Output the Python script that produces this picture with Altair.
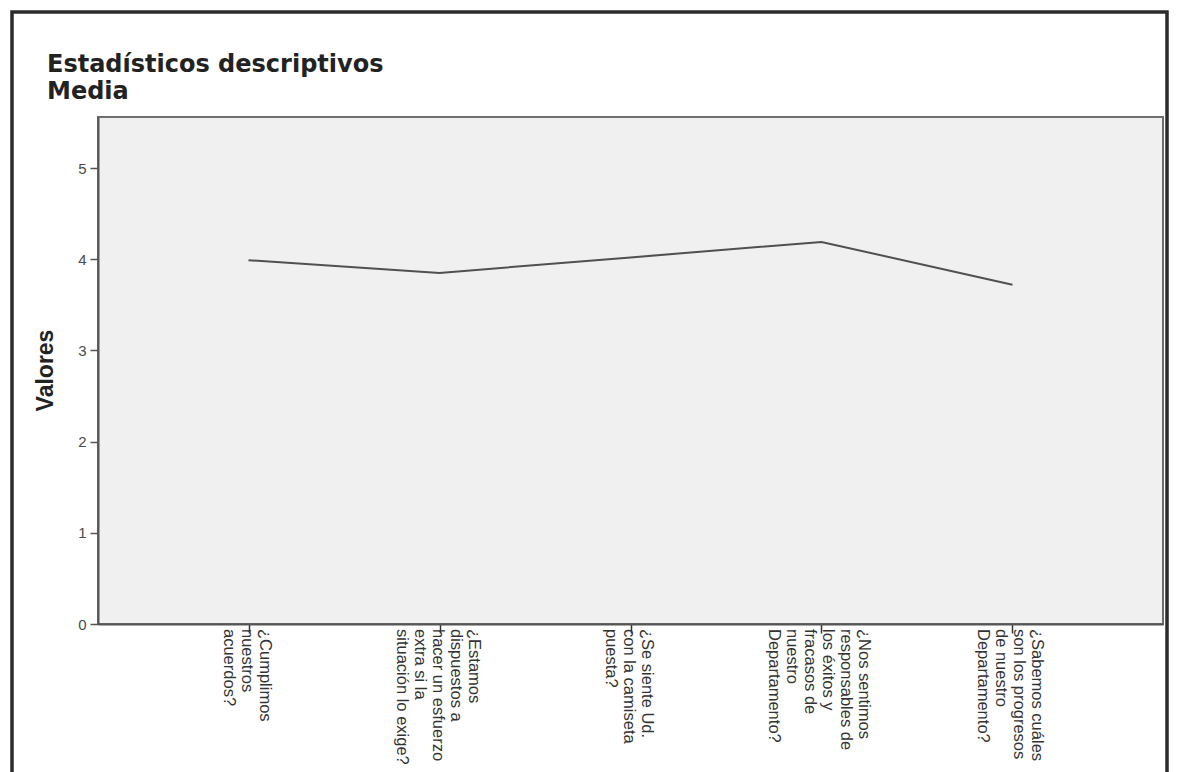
import altair as alt
import pandas as pd

# Data
categories = [
    "¿Cumplimos\nnuestros\nacuerdos?",
    "¿Estamos\ndispuestos a\nhacer un esfuerzo\nextra si la\nsituación lo exige?",
    "¿Se siente Ud.\ncon la camiseta\npuesta?",
    "¿Nos sentimos\nresponsables de\nlos éxitos y\nfracasos de\nnuestro\nDepartamento?",
    "¿Sabemos cuáles\nson los progresos\nde nuestro\nDepartamento?",
]
means = [3.99, 3.85, 4.02, 4.19, 3.72]
y_ticks = [0, 1, 2, 3, 4, 5]
title_lines = ["Estadísticos descriptivos", "Media"]
y_title = "Valores"

df = pd.DataFrame({"pregunta": categories, "media": means})

W, H = 1065, 507
LABEL_FONT = "Liberation Sans, Arial"

x_scale = alt.Scale(type="point", padding=0.788)
x_axis = alt.Axis(
    title=None,
    labels=False,
    tickSize=9,
    tickColor="#333333",
    tickWidth=1.5,
    domainColor="#555555",
    domainWidth=2,
    grid=False,
)

x_enc = alt.X("pregunta:N", sort=categories, scale=x_scale, axis=x_axis)

y_enc = alt.Y(
    "media:Q",
    scale=alt.Scale(domain=[0, 5.56], nice=False, zero=True),
    axis=alt.Axis(
        title=y_title,
        values=y_ticks,
        format="d",
        labelFont=LABEL_FONT,
        labelFontSize=15,
        labelColor="#4a4a4a",
        labelPadding=4,
        tickSize=8,
        tickColor="#555555",
        tickWidth=1.5,
        domainColor="#555555",
        domainWidth=2,
        grid=False,
        titleFont=LABEL_FONT,
        titleFontSize=23,
        titleFontWeight="bold",
        titleColor="#222222",
        titleX=-53,
        titleY=253,
        titleAngle=-90,
        titleBaseline="middle",
        titleAlign="center",
    ),
)

line = alt.Chart(df).mark_line(color="#505050", strokeWidth=2).encode(x=x_enc, y=y_enc)

# rotated, multi-line category labels centred on their ticks
labels = (
    alt.Chart(df)
    .transform_calculate(
        lines="split(datum.pregunta, '\\n')",
        off="(length(split(datum.pregunta, '\\n')) - 1) * 9 - 2",
    )
    .mark_text(
        angle=90,
        align="left",
        baseline="middle",
        font=LABEL_FONT,
        fontSize=16.5,
        lineHeight=18,
        color="#333333",
    )
    .encode(
        x=alt.X("pregunta:N", sort=categories, scale=x_scale, axis=x_axis),
        xOffset=alt.XOffset("off:Q", scale=None),
        y=alt.value(H + 5),
        text=alt.Text("lines:N"),
    )
)

title = (
    alt.Chart(alt.Data(values=[{"t": 1}]))
    .mark_text(
        align="left",
        baseline="alphabetic",
        font="DejaVu Sans",
        fontSize=24,
        fontWeight="bold",
        lineHeight=27,
        color="#222222",
    )
    .encode(x=alt.value(-51), y=alt.value(-45), text=alt.value(title_lines))
)

frame = alt.Chart(alt.Data(values=[{"f": 1}])).mark_rect(
    fill=None, stroke="#2b2b2b", strokeWidth=3.5
).encode(
    x=alt.value(-86), x2=alt.value(1069), y=alt.value(-105), y2=alt.value(760)
)

chart = (
    alt.layer(line, labels, title, frame)
    .properties(
        width=W,
        height=H,
        view=alt.ViewBackground(fill="#f0f0f0", stroke="#6e6e6e", strokeWidth=2),
        autosize=alt.AutoSizeParams(type="none"),
        padding={"left": 90, "top": 109, "right": 7, "bottom": 184},
    )
    .configure(background="white")
)

chart.save("out.html", embed_options={"renderer": "svg", "actions": False})
